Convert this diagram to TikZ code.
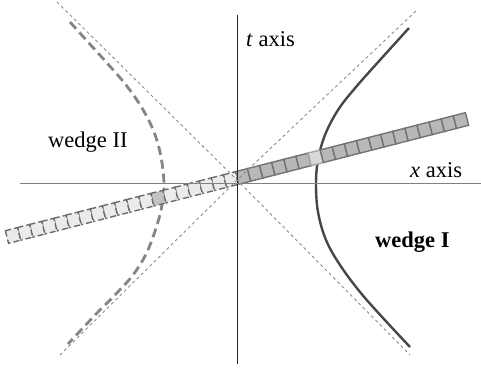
\documentclass[tikz,border=0pt]{standalone}
\usepackage{fontspec}
\setmainfont{Liberation Serif}
\begin{document}
\begin{tikzpicture}[x=1pt,y=-1pt,
  axisv/.style={line width=0.9pt,draw=black!85},
  axish/.style={line width=1pt,draw=black!50},
  cone/.style={line width=0.9pt,draw=black!45,dash pattern=on 3pt off 3pt},
  hypsolid/.style={line width=2.4pt,draw=black!72},
  hypdash/.style={line width=2.8pt,draw=black!48,dash pattern=on 9pt off 5pt},
  cellR/.style={line width=1.4pt,draw=black!55,fill=black!28},
  cellRhi/.style={line width=1.4pt,draw=black!35,fill=black!15},
  cellL/.style={line width=1.4pt,draw=black!58,fill=black!8,dash pattern=on 6pt off 3pt},
  cellLhi/.style={line width=1.4pt,draw=black!58,fill=black!24,dash pattern=on 6pt off 3pt},
  lab/.style={font=\fontsize{22.5}{26}\selectfont,inner sep=0pt,anchor=base west}]
\useasboundingbox (0,0) rectangle (481,371);
% hyperbolas
\draw[hypsolid] plot[smooth,tension=0.6] coordinates {(409,28) (380,60) (356,87) (338,110) (325,135) (318,160) (316,184) (318,212) (326,240) (340,265) (360,292) (383,318) (410,347)};
\draw[hypdash] plot[smooth,tension=0.6] coordinates {(70,22) (88,42) (107,63) (126,85) (142,108) (154,132) (161,157) (164,184) (162,205) (157,225) (147,252) (133,275) (113,297) (97,313) (68,344)};
% rod
\begin{scope}[shift={(237,178)},rotate=14.39]
  \foreach \i in {0,...,18}{
    \ifnum\i=6
      \draw[cellRhi] (\i*12.5,-6.5) rectangle ({(\i+1)*12.5},6.5);
    \else
      \draw[cellR] (\i*12.5,-6.5) rectangle ({(\i+1)*12.5},6.5);
    \fi
  }
  \foreach \i in {1,...,19}{
    \ifnum\i=7
      \draw[cellLhi] (-\i*12.5,-6.5) rectangle ({-(\i-1)*12.5},6.5);
    \else
      \draw[cellL] (-\i*12.5,-6.5) rectangle ({-(\i-1)*12.5},6.5);
    \fi
  }
\end{scope}
% axes
\coordinate (O) at (237,180);
\coordinate (vt) at (237,15);
\coordinate (vb) at (237,364);
\coordinate (hl) at (20,184);
\coordinate (hr) at (481,184);
\draw[axisv] (vt) -- (vb);
\draw[axish] (hl) -- (hr);
% light cone
\coordinate (ul) at (57,2);
\coordinate (lr) at (410,355);
\coordinate (ll) at (60,355);
\coordinate (ur) at (417,10);
\draw[cone] (ul) -- (O) -- (lr);
\draw[cone] (ll) -- (O) -- (ur);
% labels
\node[lab] (tl) at (246,47) {\textit{t} axis};
\node[lab] (xl) at (410,178) {\textit{x} axis};
\node[lab] (w2) at (48,148) {wedge II};
\node[lab] (w1) at (375,247) {\textbf{wedge I}};
\end{tikzpicture}
\end{document}
